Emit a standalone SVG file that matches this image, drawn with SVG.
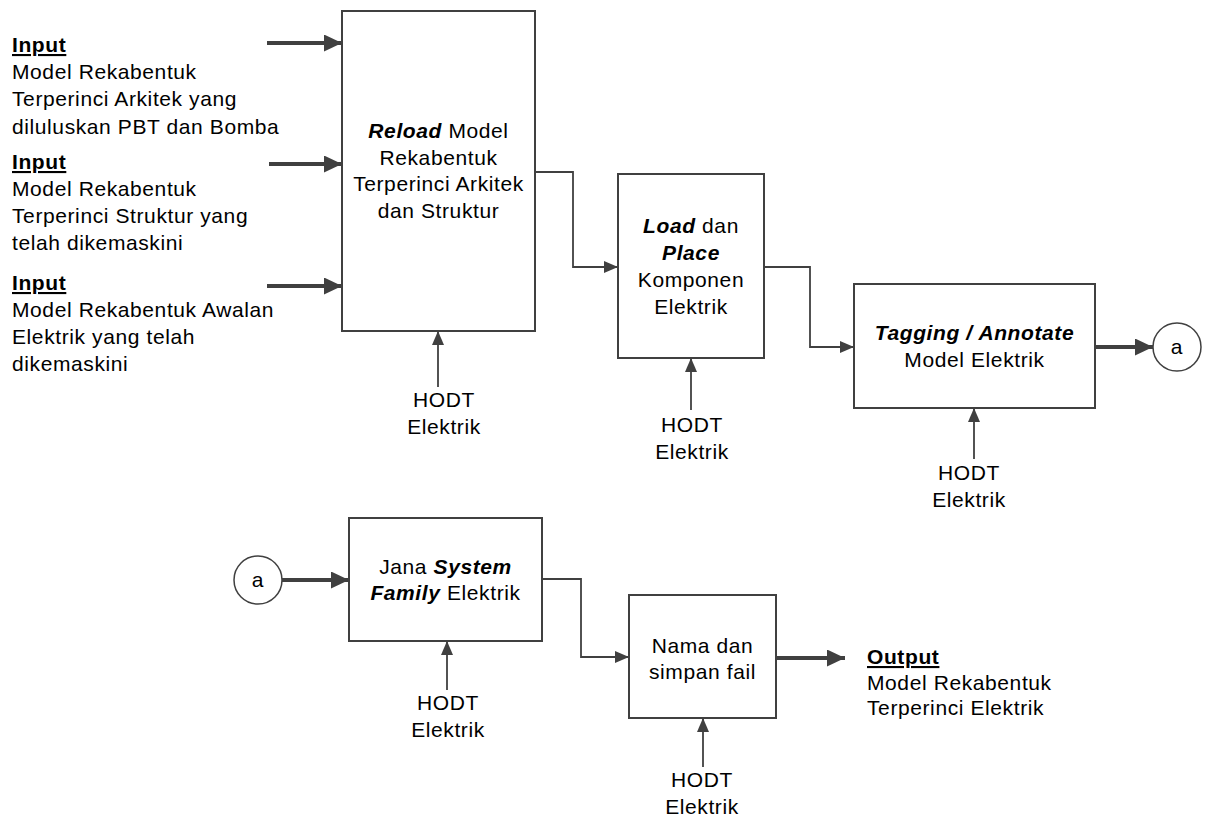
<svg xmlns="http://www.w3.org/2000/svg" width="1205" height="816" viewBox="0 0 1205 816">
  <defs>
    <marker id="head" markerUnits="userSpaceOnUse" markerWidth="14" markerHeight="12" refX="14" refY="6" orient="auto">
      <path d="M0,0 L14,6 L0,12 z" fill="#404040"/>
    </marker>
    <marker id="headBold" markerUnits="userSpaceOnUse" markerWidth="18" markerHeight="17" refX="18" refY="8.5" orient="auto">
      <path d="M0,0 L18,8.5 L0,17 z" fill="#404040"/>
    </marker>
  </defs>
  <style>
    text { font-family: "Liberation Sans", Arial, sans-serif; font-size: 21px; fill: #000; letter-spacing: 0.6px; }
    .c { text-anchor: middle; }
    .b { font-weight: bold; }
    .bi { font-weight: bold; font-style: italic; }
    .u { text-decoration: underline; }
    .box { fill: #fff; stroke: #404040; stroke-width: 2; }
    .thin { fill: none; stroke: #404040; stroke-width: 1.8; marker-end: url(#head); }
    .bold { fill: none; stroke: #404040; stroke-width: 4; marker-end: url(#headBold); }
    .ring { fill: #fff; stroke: #404040; stroke-width: 1.5; }
  </style>

  <rect width="1205" height="816" fill="#fff"/>

  <!-- connectors -->
  <g id="connectors">
    <line class="bold" x1="267" y1="43" x2="342" y2="43"/>
    <line class="bold" x1="269" y1="164" x2="342" y2="164"/>
    <line class="bold" x1="267" y1="286" x2="342" y2="286"/>
    <polyline class="thin" points="535,172 573,172 573,267 618,267"/>
    <polyline class="thin" points="764,267 810,267 810,347 854,347"/>
    <line class="bold" x1="1095" y1="347" x2="1153" y2="347"/>
    <line class="bold" x1="282" y1="580" x2="349" y2="580"/>
    <polyline class="thin" points="542,579 581,579 581,657 629,657"/>
    <line class="bold" x1="776" y1="658" x2="845" y2="658"/>
    <line class="thin" x1="438" y1="387" x2="438" y2="331"/>
    <line class="thin" x1="691" y1="410" x2="691" y2="358"/>
    <line class="thin" x1="974" y1="459" x2="974" y2="408"/>
    <line class="thin" x1="447" y1="690" x2="447" y2="641"/>
    <line class="thin" x1="703" y1="767" x2="703" y2="718"/>
  </g>

  <!-- inputs -->
  <g id="input-arkitek">
    <text x="12" y="52" class="b u">Input</text>
    <text x="12" y="79">Model Rekabentuk</text>
    <text x="12" y="106">Terperinci Arkitek yang</text>
    <text x="12" y="134">diluluskan PBT dan Bomba</text>
  </g>
  <g id="input-struktur">
    <text x="12" y="169" class="b u">Input</text>
    <text x="12" y="196">Model Rekabentuk</text>
    <text x="12" y="223">Terperinci Struktur yang</text>
    <text x="12" y="250">telah dikemaskini</text>
  </g>
  <g id="input-elektrik">
    <text x="12" y="290" class="b u">Input</text>
    <text x="12" y="317">Model Rekabentuk Awalan</text>
    <text x="12" y="344">Elektrik yang telah</text>
    <text x="12" y="371">dikemaskini</text>
  </g>

  <!-- process steps -->
  <g id="reload">
    <rect class="box" x="342" y="11" width="193" height="320"/>
    <text x="438.5" y="138" class="c"><tspan class="bi">Reload</tspan> Model</text>
    <text x="438.5" y="165" class="c">Rekabentuk</text>
    <text x="438.5" y="191" class="c">Terperinci Arkitek</text>
    <text x="438.5" y="218" class="c">dan Struktur</text>
  </g>
  <g id="hodt-1">
    <text x="444" y="407" class="c">HODT</text>
    <text x="444" y="434" class="c">Elektrik</text>
  </g>

  <g id="load-place">
    <rect class="box" x="618" y="174" width="146" height="184"/>
    <text x="691" y="233" class="c"><tspan class="bi">Load</tspan> dan</text>
    <text x="691" y="260" class="c bi">Place</text>
    <text x="691" y="287" class="c">Komponen</text>
    <text x="691" y="314" class="c">Elektrik</text>
  </g>
  <g id="hodt-2">
    <text x="692" y="432" class="c">HODT</text>
    <text x="692" y="459" class="c">Elektrik</text>
  </g>

  <g id="tagging">
    <rect class="box" x="854" y="284" width="241" height="124"/>
    <text x="974.5" y="340" class="c bi">Tagging / Annotate</text>
    <text x="974.5" y="367" class="c">Model Elektrik</text>
  </g>
  <g id="hodt-3">
    <text x="969" y="480" class="c">HODT</text>
    <text x="969" y="507" class="c">Elektrik</text>
  </g>

  <g id="connector-a-out">
    <circle class="ring" cx="1177" cy="347" r="24"/>
    <text x="1177" y="354" class="c">a</text>
  </g>
  <g id="connector-a-in">
    <circle class="ring" cx="258" cy="580" r="24"/>
    <text x="258" y="587" class="c">a</text>
  </g>

  <g id="system-family">
    <rect class="box" x="349" y="518" width="193" height="123"/>
    <text x="445.5" y="574" class="c">Jana <tspan class="bi">System</tspan></text>
    <text x="445.5" y="600" class="c"><tspan class="bi">Family</tspan> Elektrik</text>
  </g>
  <g id="hodt-4">
    <text x="448" y="710" class="c">HODT</text>
    <text x="448" y="737" class="c">Elektrik</text>
  </g>

  <g id="simpan">
    <rect class="box" x="629" y="595" width="147" height="123"/>
    <text x="702.5" y="653" class="c">Nama dan</text>
    <text x="702.5" y="679" class="c">simpan fail</text>
  </g>
  <g id="hodt-5">
    <text x="702" y="787" class="c">HODT</text>
    <text x="702" y="814" class="c">Elektrik</text>
  </g>

  <g id="output">
    <text x="867" y="664" class="b u">Output</text>
    <text x="867" y="690">Model Rekabentuk</text>
    <text x="867" y="715">Terperinci Elektrik</text>
  </g>
</svg>
